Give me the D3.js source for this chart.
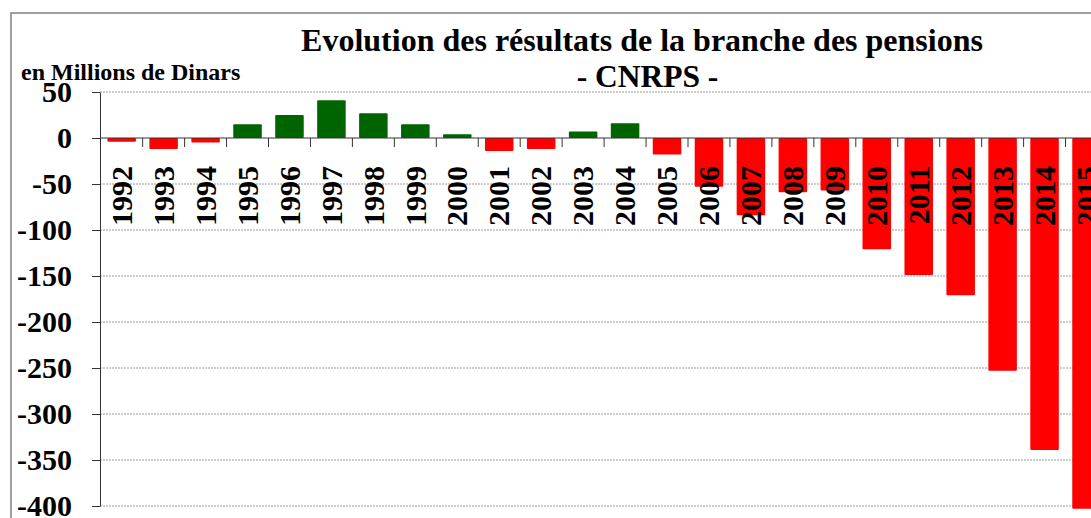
<!DOCTYPE html>
<html>
<head>
<meta charset="utf-8">
<script src="https://cdn.jsdelivr.net/npm/d3@7"></script>
<style>
  body { margin: 0; background: #fff; overflow: hidden; }
</style>
</head>
<body>
<div id="chart-area"></div>
<script>
// data
let years = ["1992","1993","1994","1995","1996","1997","1998","1999","2000","2001","2002","2003",
             "2004","2005","2006","2007","2008","2009","2010","2011","2012","2013","2014","2015"];
let results = [-4, -12, -5, 15, 25, 41, 27, 15, 4, -14, -12, 7,
               16, -18, -53, -84, -59, -57, -121, -149, -171, -253, -339, -403];
let yTicks = [50, 0, -50, -100, -150, -200, -250, -300, -350, -400];

let width = 1091, height = 518;
let plotLeft = 100.7, plotTop = 92, plotBottom = 506;
let serif = "'Liberation Serif', 'Times New Roman', 'DejaVu Serif', serif";

let svg = d3.select("#chart-area").append("svg")
    .attr("width", width)
    .attr("height", height)
    .style("display", "block");

// outer frame (cut by the window on the right and bottom)
svg.append("rect")
    .attr("x", 11).attr("y", 13)
    .attr("width", 1200).attr("height", 600)
    .attr("fill", "none")
    .attr("stroke", "#808080")
    .attr("stroke-width", 1.5);

// Scales
let x = d3.scaleBand()
    .domain(years)
    .range([plotLeft, plotLeft + years.length * 41.95])
    .paddingInner(0.32)
    .paddingOuter(0.16);

let y = d3.scaleLinear()
    .domain([-400, 50])
    .range([plotBottom, plotTop]);

let step = x.step();

// grid lines
svg.append("g").selectAll("line")
    .data(yTicks.filter(d => d != 0))
    .enter().append("line")
    .attr("x1", 100).attr("x2", width)
    .attr("y1", d => y(d)).attr("y2", d => y(d))
    .attr("stroke", "#9a9a9a")
    .attr("stroke-width", 1)
    .attr("stroke-dasharray", "2,1");

// bars
svg.append("g").selectAll("rect")
    .data(results)
    .enter().append("rect")
    .attr("x", (d, i) => x(years[i]))
    .attr("y", d => d >= 0 ? y(d) : y(0))
    .attr("width", x.bandwidth())
    .attr("height", d => Math.abs(y(d) - y(0)))
    .attr("rx", 1)
    .attr("fill", d => d >= 0 ? "#006400" : "#ff0000");

// y axis
let yAxis = d3.axisLeft(y)
    .tickValues(yTicks)
    .tickFormat(d => String(d))
    .tickSizeInner(8)
    .tickSizeOuter(0)
    .tickPadding(20);

let yg = svg.append("g")
    .attr("transform", "translate(100,0)")
    .call(yAxis)
    .attr("font-family", serif)
    .attr("font-size", 30)
    .attr("font-weight", "bold");
yg.select(".domain").attr("stroke", "#333");
yg.selectAll(".tick line").attr("stroke", "#333");
yg.selectAll(".tick text").attr("fill", "#000");

// zero line with ticks at band boundaries
svg.append("line")
    .attr("x1", 100).attr("x2", width)
    .attr("y1", y(0)).attr("y2", y(0))
    .attr("stroke", "#333")
    .attr("stroke-width", 1.2);

svg.append("g").selectAll("line")
    .data(years)
    .enter().append("line")
    .attr("x1", d => x(d) - step * 0.16 + step)
    .attr("x2", d => x(d) - step * 0.16 + step)
    .attr("y1", y(0)).attr("y2", y(0) + 9)
    .attr("stroke", "#333");

// year labels, rotated
svg.append("g").selectAll("text")
    .data(years)
    .enter().append("text")
    .attr("transform", d => "translate(" + (x(d) + x.bandwidth() / 2) + ",166) rotate(-90)")
    .attr("text-anchor", "end")
    .attr("dy", "0.34em")
    .attr("font-family", serif)
    .attr("font-weight", "bold")
    .attr("font-size", 30)
    .text(d => d);

// titles
svg.append("text")
    .attr("x", 642).attr("y", 51)
    .attr("text-anchor", "middle")
    .attr("font-family", serif)
    .attr("font-weight", "bold")
    .attr("font-size", 32)
    .text("Evolution des résultats de la branche des pensions");

svg.append("text")
    .attr("x", 647.5).attr("y", 87)
    .attr("text-anchor", "middle")
    .attr("font-family", serif)
    .attr("font-weight", "bold")
    .attr("font-size", 31.5)
    .text("- CNRPS -");

svg.append("text")
    .attr("x", 21).attr("y", 80)
    .attr("font-family", serif)
    .attr("font-weight", "bold")
    .attr("font-size", 24)
    .text("en Millions de Dinars");
</script>
</body>
</html>
